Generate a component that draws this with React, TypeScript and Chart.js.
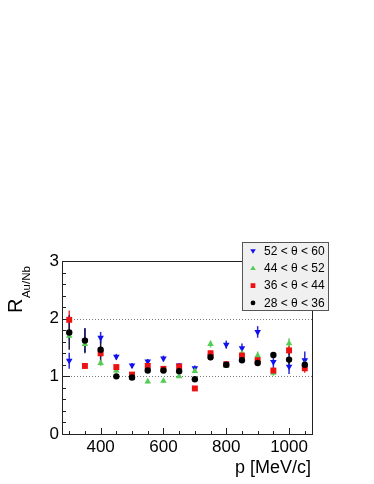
import React, { useEffect, useRef } from "react";
import { Chart, registerables } from "chart.js";

Chart.register(...registerables);

const momentum = [300, 350, 400, 450, 500, 550, 600, 650, 700, 750, 800, 850, 900, 950, 1000, 1050];

const blueValues = [1.27, 1.62, 1.67, 1.34, 1.19, 1.26, 1.31, 1.19, 1.14, 1.35, 1.55, 1.49, 1.77, 1.25, 1.17, 1.28];
const blueErrors = [0.14, 0.2, 0.1, 0.05, 0.04, 0.04, 0.05, 0.04, 0.05, 0.05, 0.07, 0.08, 0.1, 0.13, 0.13, 0.15];

const greenValues = [1.7, 1.56, 1.23, 1.1, 0.97, 0.91, 0.92, 1.0, 1.09, 1.56, 1.18, 1.4, 1.36, 1.06, 1.57, 1.21];
const greenErrors = [0.08, 0.08, 0.05, 0.04, 0.03, 0.03, 0.03, 0.03, 0.03, 0.06, 0.03, 0.05, 0.07, 0.05, 0.09, 0.06];

const redValues = [1.98, 1.18, 1.4, 1.16, 1.03, 1.18, 1.13, 1.17, 0.79, 1.4, 1.21, 1.36, 1.28, 1.1, 1.45, 1.14];
const redErrors = [0.16, 0.05, 0.06, 0.04, 0.04, 0.04, 0.04, 0.04, 0.03, 0.05, 0.04, 0.05, 0.07, 0.05, 0.08, 0.08];

const blackValues = [1.76, 1.62, 1.46, 1.0, 0.98, 1.1, 1.1, 1.09, 0.95, 1.33, 1.2, 1.28, 1.23, 1.37, 1.29, 1.2];
const blackErrors = [0.3, 0.22, 0.2, 0.03, 0.03, 0.04, 0.04, 0.04, 0.04, 0.05, 0.04, 0.04, 0.05, 0.05, 0.15, 0.08];

const seriesLabels = ["52 < \u03b8 < 60", "44 < \u03b8 < 52", "36 < \u03b8 < 44", "28 < \u03b8 < 36"];
const seriesColors = ["#1010f0", "#55cc55", "#ee1111", "#000000"];
const barColors = ["#2a2ad0", "#66cc66", "#ee3333", "#1a1a50"];

const xTickLabels = [400, 600, 800, 1000];
const yTickLabels = [0, 1, 2, 3];
const referenceLines = [1, 2];

const FONT = "'Liberation Sans', Arial, Helvetica, sans-serif";

const seriesValues = [blueValues, greenValues, redValues, blackValues];
const seriesErrors = [blueErrors, greenErrors, redErrors, blackErrors];

function drawMarker(ctx: CanvasRenderingContext2D, kind: number, x: number, y: number, s: number) {
  ctx.beginPath();
  if (kind === 0) {
    ctx.moveTo(x - s, y - s * 0.6);
    ctx.lineTo(x + s, y - s * 0.6);
    ctx.lineTo(x, y + s * 1.0);
  } else if (kind === 1) {
    ctx.moveTo(x - s, y + s * 0.6);
    ctx.lineTo(x + s, y + s * 0.6);
    ctx.lineTo(x, y - s * 1.0);
  } else if (kind === 2) {
    ctx.rect(x - s * 0.85, y - s * 0.85, s * 1.7, s * 1.7);
  } else {
    ctx.arc(x, y, s * 0.85, 0, Math.PI * 2);
  }
  ctx.closePath();
  ctx.fill();
}

const rootPlugin = {
  id: "rootStyle",
  beforeDatasetsDraw(chart: any) {
    const { ctx, chartArea: a, scales } = chart;
    const xs = scales.x;
    const ys = scales.y;
    ctx.save();
    ctx.strokeStyle = "#777";
    ctx.lineWidth = 1;
    ctx.setLineDash([1, 2]);
    for (const v of referenceLines) {
      const py = Math.round(ys.getPixelForValue(v)) + 0.5;
      ctx.beginPath();
      ctx.moveTo(a.left, py);
      ctx.lineTo(a.right, py);
      ctx.stroke();
    }
    ctx.setLineDash([]);
    ctx.strokeStyle = "#222";
    for (let k = 0; k <= 15; k++) {
      const v = k * 0.2;
      const py = Math.round(ys.getPixelForValue(v)) + 0.5;
      const len = k % 5 === 0 ? 8 : 4;
      ctx.beginPath();
      ctx.moveTo(a.left, py);
      ctx.lineTo(a.left + len, py);
      ctx.stroke();
    }
    for (let v = 300; v <= 1050; v += 50) {
      const px = Math.round(xs.getPixelForValue(v)) + 0.5;
      const len = v % 200 === 0 ? 6 : 3;
      ctx.beginPath();
      ctx.moveTo(px, a.bottom);
      ctx.lineTo(px, a.bottom - len);
      ctx.stroke();
    }
    ctx.strokeRect(Math.round(a.left) + 0.5, Math.round(a.top) + 0.5, Math.round(a.right - a.left), Math.round(a.bottom - a.top));
    ctx.lineWidth = 1.5;
    for (let s = 0; s < 4; s++) {
      ctx.strokeStyle = barColors[s];
      for (let i = 0; i < momentum.length; i++) {
        const px = xs.getPixelForValue(momentum[i]);
        const y1 = ys.getPixelForValue(seriesValues[s][i] - seriesErrors[s][i]);
        const y2 = ys.getPixelForValue(seriesValues[s][i] + seriesErrors[s][i]);
        ctx.beginPath();
        ctx.moveTo(px, y1);
        ctx.lineTo(px, y2);
        ctx.stroke();
      }
    }
    ctx.restore();
  },
  afterDraw(chart: any) {
    const { ctx, chartArea: a } = chart;
    ctx.save();
    const lx = 242.5, ly = 242.5, lw = 86, lh = 68;
    ctx.fillStyle = "#f0f0f0";
    ctx.fillRect(lx, ly, lw, lh);
    ctx.strokeStyle = "#555";
    ctx.lineWidth = 1;
    ctx.strokeRect(lx, ly, lw, lh);
    ctx.font = `12px ${FONT}`;
    ctx.textBaseline = "middle";
    ctx.textAlign = "left";
    for (let s = 0; s < 4; s++) {
      const cy = 251 + s * 17.3;
      ctx.fillStyle = seriesColors[s];
      drawMarker(ctx, s, 253, cy, 2.8);
      ctx.fillStyle = "#000";
      ctx.fillText(seriesLabels[s], 264, cy + 0.5);
    }
    ctx.font = `18px ${FONT}`;
    ctx.textBaseline = "alphabetic";
    ctx.textAlign = "right";
    ctx.fillText("p [MeV/c]", a.right - 1, 473);
    ctx.translate(22, 313);
    ctx.rotate(-Math.PI / 2);
    ctx.textAlign = "left";
    ctx.font = `20px ${FONT}`;
    ctx.fillText("R", 0, 0);
    const w = ctx.measureText("R").width;
    ctx.font = `11.5px ${FONT}`;
    ctx.fillText("Au/Nb", w + 0.5, 7.5);
    ctx.restore();
  },
};

export default function App() {
  const ref = useRef<HTMLCanvasElement | null>(null);
  useEffect(() => {
    if (!ref.current) return;
    const pointStyles = ["triangle", "triangle", "rect", "circle"];
    const rotations = [180, 0, 0, 0];
    const radii = [3.8, 3.8, 4.2, 3.2];
    const order = [3, 2, 1, 0];
    const chart = new Chart(ref.current, {
      type: "scatter",
      data: {
        datasets: order.map((s) => ({
          label: seriesLabels[s],
          data: momentum.map((m, i) => ({ x: m, y: seriesValues[s][i] })),
          pointStyle: pointStyles[s] as any,
          rotation: rotations[s],
          pointRadius: radii[s],
          pointBackgroundColor: seriesColors[s],
          pointBorderColor: seriesColors[s],
          pointBorderWidth: 0,
          showLine: false,
        })),
      },
      options: {
        animation: false,
        responsive: false,
        events: [],
        layout: { padding: { left: 0, top: 261, right: 62, bottom: 0 } },
        plugins: { legend: { display: false }, tooltip: { enabled: false } },
        scales: {
          x: {
            type: "linear",
            min: 277,
            max: 1073,
            grid: { display: false, drawTicks: false },
            border: { display: false },
            ticks: {
              font: { family: FONT, size: 17 },
              color: "#000",
              padding: 3,
              maxRotation: 0,
              callback: (v: any) => String(v),
            },
            afterBuildTicks: (scale: any) => {
              scale.ticks = xTickLabels.map((v) => ({ value: v }));
            },
            afterFit: (scale: any) => {
              scale.height = 50;
            },
          },
          y: {
            type: "linear",
            min: 0,
            max: 3,
            grid: { display: false, drawTicks: false },
            border: { display: false },
            ticks: { font: { family: FONT, size: 17 }, color: "#000", padding: 3, callback: (v: any) => String(v) },
            afterBuildTicks: (scale: any) => {
              scale.ticks = yTickLabels.map((v) => ({ value: v }));
            },
            afterFit: (scale: any) => {
              scale.width = 62;
            },
          },
        },
      },
      plugins: [rootPlugin],
    });
    return () => chart.destroy();
  }, []);
  return (
    <div style={{ position: "absolute", left: 0, top: 0, width: 374, height: 484, background: "#fff" }}>
      <canvas ref={ref} width={374} height={484} style={{ display: "block" }} />
    </div>
  );
}
